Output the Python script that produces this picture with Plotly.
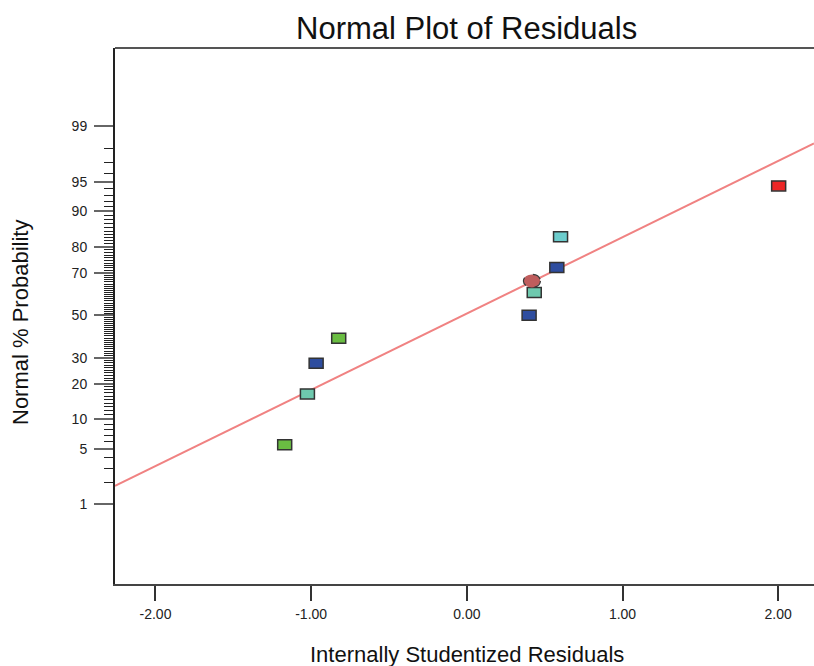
import plotly.graph_objects as go
from statistics import NormalDist

nd = NormalDist()

# ---- data ----
residuals = [-1.170, -1.024, -0.968, -0.823, 0.400, 0.433, 0.578, 0.602, 2.003]
probabilities = [5.56, 16.67, 27.78, 38.89, 50.0, 61.11, 72.22, 83.33, 94.44]
point_colors = ["#6abd42", "#6ec9ae", "#2e4d9f", "#6abd42", "#2e4d9f",
                "#6ec9ae", "#2e4d9f", "#6ccdcd", "#ec2626"]
highlight_x = [0.418]
highlight_p = [66.4]
fit_mean = -0.0234
fit_sd = 1.065

y_tick_labels = [1, 5, 10, 20, 30, 50, 70, 80, 90, 95, 99]
y_minor_percents = [p for p in range(1, 100) if p not in y_tick_labels]
x_tick_vals = [-2, -1, 0, 1, 2]
x_tick_text = ["-2.00", "-1.00", "0.00", "1.00", "2.00"]

x_range = [-2.26, 2.23]
y_range = [-3.307, 3.290]

FONT = "Liberation Sans, Arial, sans-serif"


def probit(p):
    return nd.inv_cdf(p / 100.0)


fig = go.Figure()

# fitted normal line
line_x = x_range
line_z = [(v - fit_mean) / fit_sd for v in line_x]
fig.add_trace(go.Scatter(x=line_x, y=line_z, mode="lines",
                         line=dict(color="#f08282", width=2),
                         hoverinfo="skip", showlegend=False))

shapes = []
# residual points drawn as pixel-sized rectangles anchored at data coordinates
for xv, pv, c in zip(residuals, probabilities, point_colors):
    shapes.append(dict(type="rect", xref="x", yref="y",
                       xsizemode="pixel", ysizemode="pixel",
                       xanchor=xv, yanchor=probit(pv),
                       x0=-7, x1=7, y0=-5, y1=5,
                       fillcolor=c, line=dict(color="#333333", width=1.5),
                       layer="above"))
for xv, pv in zip(highlight_x, highlight_p):
    shapes.append(dict(type="circle", xref="x", yref="y",
                       xsizemode="pixel", ysizemode="pixel",
                       xanchor=xv, yanchor=probit(pv),
                       x0=-8.5, x1=8.5, y0=-6.5, y1=6.5,
                       fillcolor="#bf5d5d", line=dict(color="#3a3a3a", width=1.2, dash="dash"),
                       layer="above"))
# top frame line
shapes.append(dict(type="line", xref="paper", yref="paper", x0=0, x1=1, y0=1, y1=1,
                   line=dict(color="#555555", width=2)))

fig.update_layout(
    width=814, height=666,
    margin=dict(l=115, r=0, t=48, b=82),
    plot_bgcolor="white", paper_bgcolor="white",
    showlegend=False,
    shapes=shapes,
    font=dict(family=FONT, color="#222222"),
    xaxis=dict(range=x_range, tickvals=x_tick_vals, ticktext=x_tick_text,
               showgrid=False, zeroline=False,
               showline=True, linecolor="#444444", linewidth=2,
               ticks="outside", ticklen=15, tickwidth=1.5, tickcolor="#333333",
               ticklabelstandoff=1,
               tickfont=dict(size=14, family=FONT, color="#222222")),
    yaxis=dict(range=y_range,
               tickvals=[probit(p) for p in y_tick_labels],
               ticktext=[str(p) for p in y_tick_labels],
               showgrid=False, zeroline=False,
               showline=True, linecolor="#222222", linewidth=2,
               ticks="outside", ticklen=19, tickwidth=1.5, tickcolor="#666666",
               ticklabelstandoff=4,
               tickfont=dict(size=14, family=FONT, color="#222222"),
               minor=dict(tickmode="array",
                          tickvals=[probit(p) for p in y_minor_percents],
                          ticks="outside", ticklen=9, tickwidth=1,
                          tickcolor="#222222", showgrid=False)),
    annotations=[
        dict(text="Normal Plot of Residuals", xref="paper", yref="paper",
             x=(466 - 115) / 699, y=1, yshift=20, showarrow=False,
             xanchor="center", yanchor="middle",
             font=dict(size=31, family=FONT, color="#111111")),
        dict(text="Internally Studentized Residuals", xref="paper", yref="paper",
             x=(467 - 115) / 699, y=0, yshift=-70, showarrow=False,
             xanchor="center", yanchor="middle",
             font=dict(size=22, family=FONT, color="#111111")),
        dict(text="Normal % Probability", xref="paper", yref="paper",
             x=0, xshift=-95, y=0.5, yshift=-7, textangle=-90, showarrow=False,
             xanchor="center", yanchor="middle",
             font=dict(size=22, family=FONT, color="#111111")),
    ],
)

fig.write_html("out.html")
